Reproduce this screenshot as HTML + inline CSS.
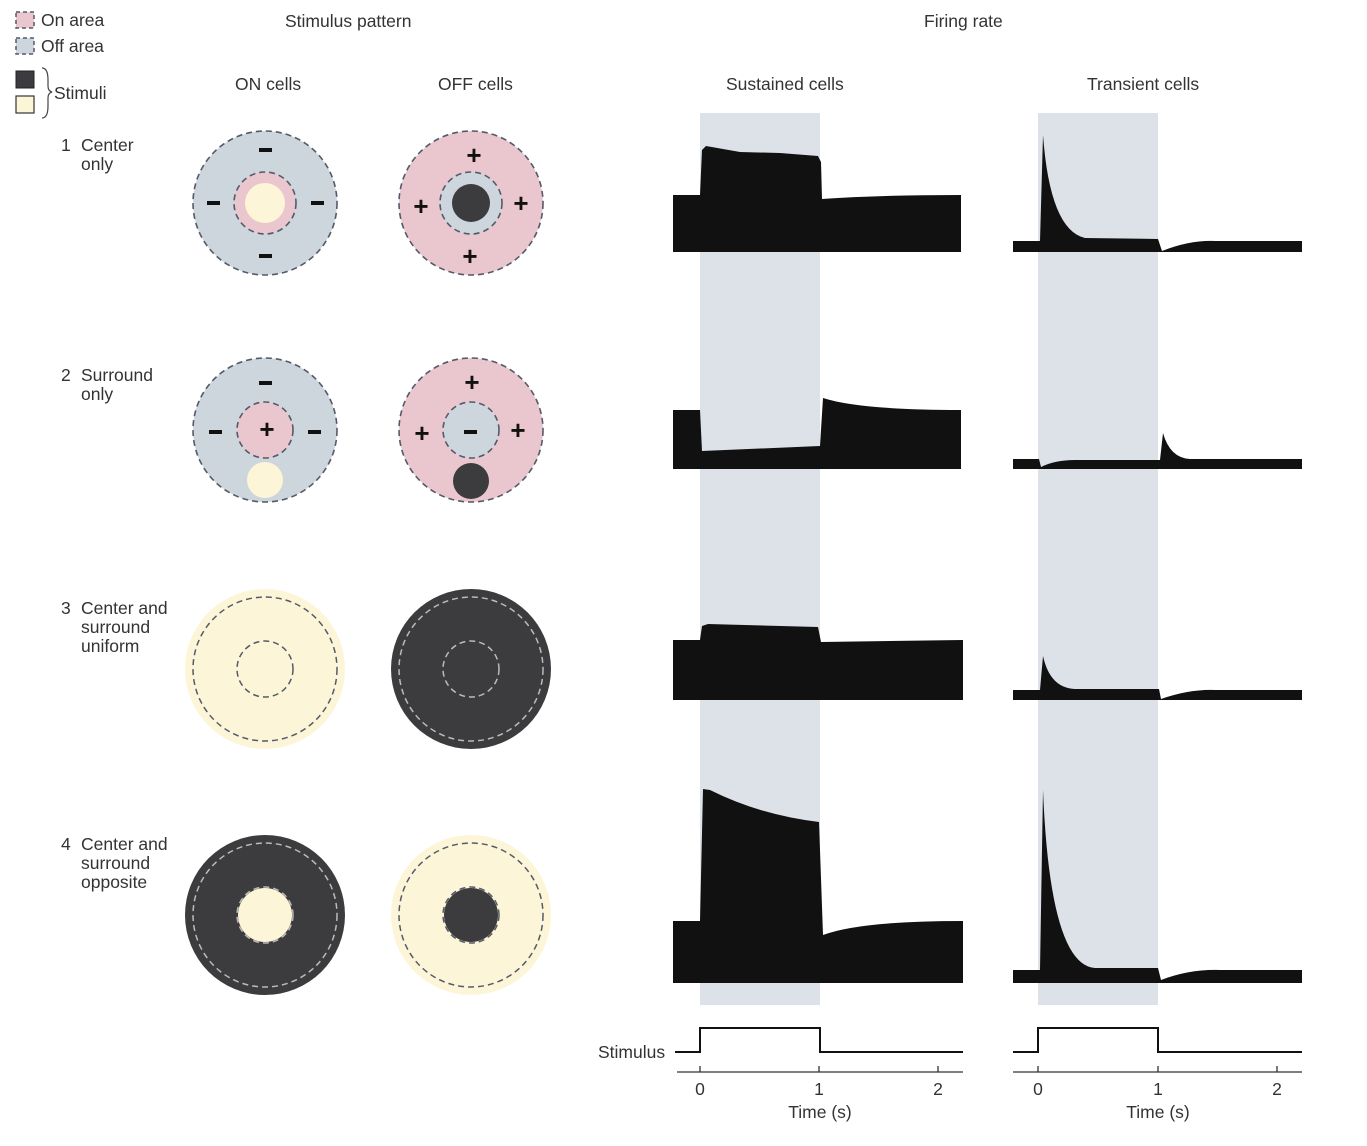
<!DOCTYPE html>
<html><head><meta charset="utf-8"><style>
html,body{margin:0;padding:0;background:#fff;}
svg{display:block;}
text{font-family:"Liberation Sans",sans-serif;fill:#333;font-size:17.5px;}
.pm{font-size:26px;font-weight:bold;fill:#111;}
</style></head><body>
<svg width="1367" height="1146" viewBox="0 0 1367 1146" xmlns="http://www.w3.org/2000/svg">
<rect x="16" y="12" width="18" height="16" fill="#eac7ce" stroke="#555a6a" stroke-dasharray="4,3" stroke-width="1.5"/>
<text x="41" y="26">On area</text>
<rect x="16" y="38" width="18" height="16" fill="#cdd6dc" stroke="#555a6a" stroke-dasharray="4,3" stroke-width="1.5"/>
<text x="41" y="52">Off area</text>
<rect x="16" y="71" width="18" height="17" fill="#3c3b3e" stroke="#222" stroke-width="1"/>
<rect x="16" y="96" width="18" height="17" fill="#fdf5d7" stroke="#333" stroke-width="1.2"/>
<path d="M42,68 q6,0 6,12 v6 q0,5 4,6 q-4,1 -4,6 v8 q0,12 -6,12" fill="none" stroke="#444" stroke-width="1.2"/>
<text x="54" y="99">Stimuli</text>
<text x="285" y="27" font-size="20">Stimulus pattern</text>
<text x="924" y="27" font-size="20">Firing rate</text>
<text x="235" y="90">ON cells</text>
<text x="438" y="90">OFF cells</text>
<text x="726" y="90">Sustained cells</text>
<text x="1087" y="90">Transient cells</text>
<text x="61" y="151">1</text><text x="81" y="151">Center</text><text x="81" y="170">only</text>
<text x="61" y="381">2</text><text x="81" y="381">Surround</text><text x="81" y="400">only</text>
<text x="61" y="614">3</text><text x="81" y="614">Center and</text><text x="81" y="633">surround</text><text x="81" y="652">uniform</text>
<text x="61" y="850">4</text><text x="81" y="850">Center and</text><text x="81" y="869">surround</text><text x="81" y="888">opposite</text>

<g stroke="#555a6a" stroke-width="1.6" stroke-dasharray="6,4">
<circle cx="265" cy="203" r="72" fill="#cdd6dc"/>
<circle cx="265" cy="203" r="31" fill="#eac7ce"/>
<circle cx="471" cy="203" r="72" fill="#eac7ce"/>
<circle cx="471" cy="203" r="31" fill="#cdd6dc"/>
<circle cx="265" cy="430" r="72" fill="#cdd6dc"/>
<circle cx="265" cy="430" r="28" fill="#eac7ce"/>
<circle cx="471" cy="430" r="72" fill="#eac7ce"/>
<circle cx="471" cy="430" r="28" fill="#cdd6dc"/>
</g>
<circle cx="265" cy="203" r="20" fill="#fdf5d7"/>
<circle cx="471" cy="203" r="19" fill="#3c3b3e"/>
<circle cx="265" cy="480" r="18" fill="#fdf5d7"/>
<circle cx="471" cy="481" r="18" fill="#3c3b3e"/>
<circle cx="265" cy="669" r="80" fill="#fdf5d7"/>
<circle cx="471" cy="669" r="80" fill="#3c3b3e"/>
<circle cx="265" cy="915" r="80" fill="#3c3b3e"/>
<circle cx="265" cy="915" r="27" fill="#fdf5d7"/>
<circle cx="471" cy="915" r="80" fill="#fdf5d7"/>
<circle cx="471" cy="915" r="27" fill="#3c3b3e"/>
<g fill="none" stroke-width="1.5" stroke-dasharray="6,4">
<circle cx="265" cy="669" r="72" stroke="#555a6a"/><circle cx="265" cy="669" r="28" stroke="#555a6a"/>
<circle cx="471" cy="669" r="72" stroke="#bbb"/><circle cx="471" cy="669" r="28" stroke="#bbb"/>
<circle cx="265" cy="915" r="72" stroke="#bbb"/><circle cx="265" cy="915" r="28" stroke="#bbb"/>
<circle cx="471" cy="915" r="72" stroke="#555a6a"/><circle cx="471" cy="915" r="28" stroke="#555a6a"/>
</g>
<g fill="#111">
<rect x="259" y="148" width="13" height="4"/><rect x="259" y="254" width="13" height="4"/>
<rect x="207" y="201" width="13" height="4"/><rect x="311" y="201" width="13" height="4"/>
<rect x="259" y="381" width="13" height="4"/><rect x="209" y="430" width="13" height="4"/><rect x="308" y="430" width="13" height="4"/>
<rect x="464" y="430" width="13" height="4"/>
</g>
<text class="pm" x="474" y="164" text-anchor="middle">+</text>
<text class="pm" x="470" y="265" text-anchor="middle">+</text>
<text class="pm" x="421" y="215" text-anchor="middle">+</text>
<text class="pm" x="521" y="212" text-anchor="middle">+</text>
<text class="pm" x="267" y="438" text-anchor="middle">+</text>
<text class="pm" x="472" y="391" text-anchor="middle">+</text>
<text class="pm" x="422" y="442" text-anchor="middle">+</text>
<text class="pm" x="518" y="439" text-anchor="middle">+</text>

<rect x="700" y="113" width="120" height="892" fill="#dde2e8"/>
<rect x="1038" y="113" width="120" height="892" fill="#dde2e8"/>

<g fill="#111">
<path d="M673,252 V195 H700 L702,150 L706,146 L740,152 L780,153 L818,156 L821,162 L822,199 Q880,195 961,195 V252 Z"/>
<path d="M673,469 V410 H700 L702,451 L820,446 L823,398 Q860,410 961,410 V469 Z"/>
<path d="M673,700 V640 H700 L702,626 L708,624 L818,627 L821,642 L963,640 V700 Z"/>
<path d="M673,983 V921 H700 L703,789 L710,790 Q760,815 819,822 L823,935 Q860,921 963,921 V983 Z"/>
<path d="M1013,252 V241 H1040 L1043,135 Q1050,230 1085,238 L1158,239 L1162,251 Q1190,240 1215,241 H1302 V252 Z"/>
<path d="M1013,469 V459 H1039 L1041,467 Q1055,460 1075,460 H1160 L1163,433 Q1170,458 1190,459 H1302 V469 Z"/>
<path d="M1013,700 V690 H1040 L1043,656 Q1050,688 1075,689 H1159 L1161,699 Q1190,689 1215,690 H1302 V700 Z"/>
<path d="M1013,983 V970 H1040 L1043,790 Q1050,965 1095,968 H1158 L1161,980 Q1190,969 1220,970 H1302 V983 Z"/>
</g>

<g fill="none" stroke="#111" stroke-width="2">
<path d="M675,1052 H700 V1028 H820 V1052 H963"/>
<path d="M1013,1052 H1038 V1028 H1158 V1052 H1302"/>
</g>
<g fill="none" stroke="#333" stroke-width="1.3">
<path d="M677,1072 H963 M700,1066 V1072 M819,1066 V1072 M938,1066 V1072"/>
<path d="M1013,1072 H1302 M1038,1066 V1072 M1158,1066 V1072 M1277,1066 V1072"/>
</g>
<text x="598" y="1058">Stimulus</text>
<g text-anchor="middle">
<text x="700" y="1095">0</text><text x="819" y="1095">1</text><text x="938" y="1095">2</text>
<text x="820" y="1118">Time (s)</text>
<text x="1038" y="1095">0</text><text x="1158" y="1095">1</text><text x="1277" y="1095">2</text>
<text x="1158" y="1118">Time (s)</text>
</g>
</svg>
</body></html>
